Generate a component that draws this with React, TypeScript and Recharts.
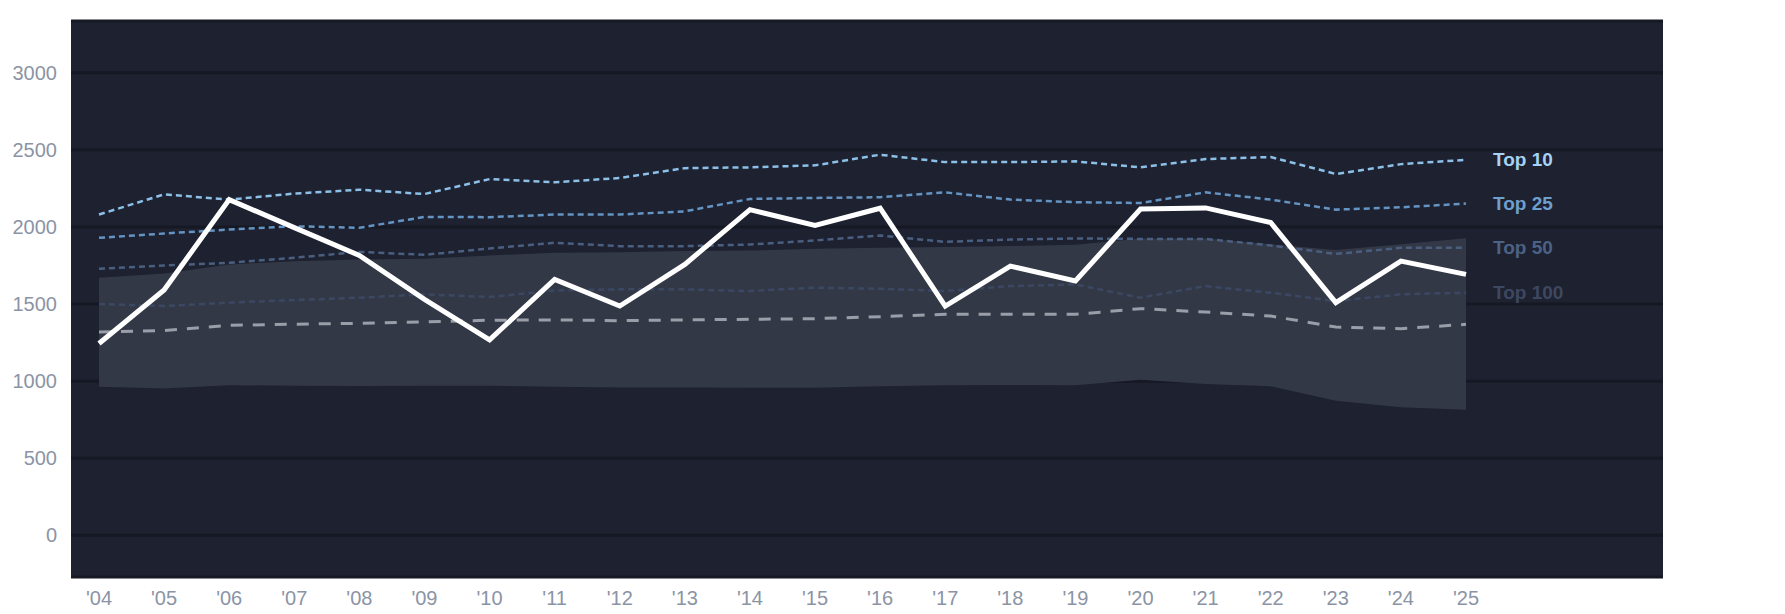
import React from "react";
import {
  ComposedChart,
  Line,
  Area,
  XAxis,
  YAxis,
  CartesianGrid,
} from "recharts";

const years = [
  "'04", "'05", "'06", "'07", "'08", "'09", "'10", "'11", "'12", "'13", "'14",
  "'15", "'16", "'17", "'18", "'19", "'20", "'21", "'22", "'23", "'24", "'25",
];

const mainLine = [
  1244, 1591, 2177, 1995, 1815, 1530, 1267, 1660, 1487, 1757, 2112,
  2009, 2121, 1487, 1746, 1649, 2116, 2123, 2028, 1509, 1778, 1692,
];
const top10 = [
  2080, 2211, 2177, 2216, 2241, 2213, 2310, 2289, 2317, 2381, 2386,
  2399, 2468, 2420, 2420, 2425, 2386, 2440, 2453, 2343, 2407, 2435,
];
const top25 = [
  1929, 1957, 1983, 2004, 1994, 2065, 2063, 2080, 2080, 2101, 2181,
  2188, 2192, 2224, 2177, 2160, 2155, 2224, 2177, 2112, 2127, 2151,
];
const top50 = [
  1728, 1750, 1767, 1800, 1838, 1819, 1860, 1897, 1875, 1875, 1886,
  1912, 1944, 1903, 1918, 1925, 1922, 1922, 1880, 1825, 1864, 1864,
];
const top100 = [
  1500, 1487, 1509, 1526, 1541, 1563, 1545, 1588, 1595, 1595, 1584,
  1606, 1599, 1584, 1616, 1627, 1541, 1616, 1573, 1519, 1563, 1573,
];
const median = [
  1319, 1328, 1362, 1369, 1375, 1384, 1395, 1397, 1392, 1397, 1401,
  1405, 1418, 1433, 1433, 1433, 1470, 1448, 1422, 1351, 1340, 1368,
];
const bandHigh = [
  1670, 1698, 1757, 1778, 1789, 1793, 1815, 1832, 1836, 1843, 1847,
  1858, 1864, 1870, 1876, 1885, 1925, 1925, 1888, 1850, 1888, 1926,
];
const bandLow = [
  964, 953, 974, 970, 968, 970, 970, 964, 959, 959, 957,
  957, 966, 974, 975, 974, 1009, 981, 966, 873, 830, 815,
];

const yTicks = [0, 500, 1000, 1500, 2000, 2500, 3000];

const data = years.map((year, i) => ({
  year,
  main: mainLine[i],
  top10: top10[i],
  top25: top25[i],
  top50: top50[i],
  top100: top100[i],
  median: median[i],
  band: [bandLow[i], bandHigh[i]],
}));

const last = years.length - 1;

const endLabel = (text: string, color: string) => (props: any) => {
  if (props.index !== last) return <g />;
  return (
    <text
      x={props.x + 27}
      y={props.y}
      dominantBaseline="central"
      fill={color}
      fontSize={19}
      fontWeight="bold"
      fontFamily="Liberation Sans, Arial, sans-serif"
    >
      {text}
    </text>
  );
};

const tickStyle = {
  fill: "#8b94a5",
  fontSize: 20,
  fontFamily: "Liberation Sans, Arial, sans-serif",
};

export default function App() {
  return (
    <ComposedChart
      width={1770}
      height={606}
      data={data}
      margin={{ top: 13, right: 115, bottom: 7, left: 0 }}
    >
      <CartesianGrid
        vertical={false}
        fill="#1d2130"
        stroke="#161923"
        strokeWidth={3}
      />
      <XAxis
        dataKey="year"
        axisLine={false}
        tickLine={false}
        tickSize={6}
        tickMargin={8}
        padding={{ left: 28, right: 197 }}
        tick={tickStyle}
        interval={0}
      />
      <YAxis
        width={63}
        domain={[-270, 3335]}
        ticks={yTicks}
        axisLine={false}
        tickLine={false}
        tickSize={6}
        tickMargin={8}
        tick={tickStyle}
      />
      <Area
        dataKey="band"
        stroke="none"
        fill="#333846"
        fillOpacity={1}
        isAnimationActive={false}
      />
      <Line
        dataKey="median"
        stroke="#9a9ea8"
        strokeWidth={3}
        strokeDasharray="12 10"
        dot={false}
        isAnimationActive={false}
      />
      <Line
        dataKey="top100"
        stroke="#3b4863"
        strokeWidth={2.5}
        strokeDasharray="6 4"
        dot={false}
        isAnimationActive={false}
        label={endLabel("Top 100", "#3d4860")}
      />
      <Line
        dataKey="top50"
        stroke="#4a5f80"
        strokeWidth={2.5}
        strokeDasharray="6 4"
        dot={false}
        isAnimationActive={false}
        label={endLabel("Top 50", "#4c6285")}
      />
      <Line
        dataKey="top25"
        stroke="#6494c4"
        strokeWidth={2.5}
        strokeDasharray="6 4"
        dot={false}
        isAnimationActive={false}
        label={endLabel("Top 25", "#6e9fcd")}
      />
      <Line
        dataKey="top10"
        stroke="#8cc0e8"
        strokeWidth={2.5}
        strokeDasharray="6 4"
        dot={false}
        isAnimationActive={false}
        label={endLabel("Top 10", "#a6d2f4")}
      />
      <Line
        dataKey="main"
        stroke="#ffffff"
        strokeWidth={5}
        dot={false}
        isAnimationActive={false}
      />
    </ComposedChart>
  );
}
